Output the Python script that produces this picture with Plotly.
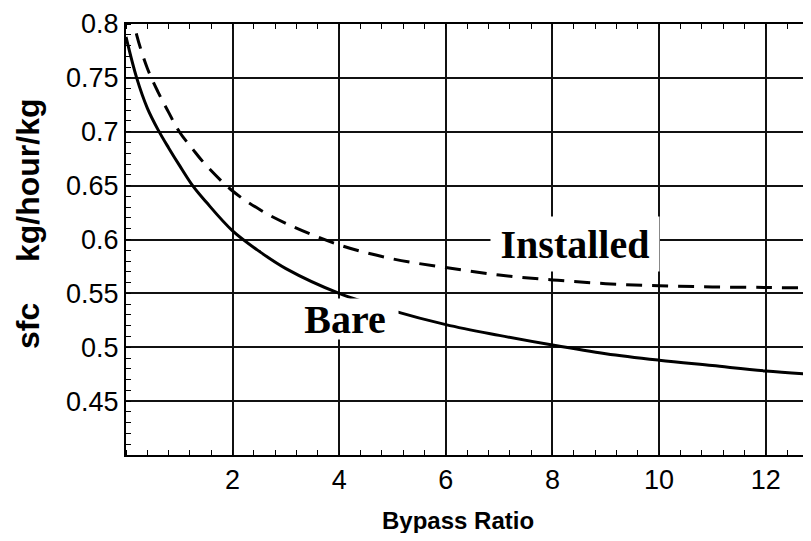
import plotly.graph_objects as go

# values
bypass_bare = [0, 0.2, 0.4, 0.6, 0.8, 1.0, 1.25, 1.5, 2, 2.5, 3, 4, 5, 6, 7, 8, 9, 10, 11, 12, 12.85]
sfc_bare = [0.788, 0.75, 0.722, 0.702, 0.685, 0.669, 0.650, 0.635, 0.608, 0.589, 0.573, 0.550,
            0.534, 0.521, 0.511, 0.502, 0.494, 0.488, 0.483, 0.478, 0.475]

bypass_installed = [0.1, 0.2, 0.4, 0.6, 0.8, 1.0, 1.25, 1.5, 2, 2.5, 3, 4, 5, 6, 7, 8, 9, 10, 11, 12, 12.85]
sfc_installed = [0.815, 0.79, 0.759, 0.737, 0.718, 0.700, 0.684, 0.669, 0.645, 0.628, 0.615, 0.595,
                 0.582, 0.574, 0.567, 0.5625, 0.559, 0.557, 0.556, 0.5555, 0.555]

x_ticks = [2, 4, 6, 8, 10, 12]
y_ticks = [0.45, 0.5, 0.55, 0.6, 0.65, 0.7, 0.75, 0.8]

# the page body has an 8px margin, so the figure starts at (8, 8) in the window;
# keep the page from overflowing vertically (no scrollbar)
OFF = 8
W, H = 811 - OFF, 541 - 2 * OFF
L, R, T = 126 - OFF, 0, 24 - OFF
B = H + OFF - 455

fig = go.Figure()
fig.add_trace(go.Scatter(
    x=bypass_bare, y=sfc_bare, mode='lines',
    line=dict(color='black', width=3, shape='spline'),
    name='Bare'
))
fig.add_trace(go.Scatter(
    x=bypass_installed, y=sfc_installed, mode='lines',
    line=dict(color='black', width=3, dash='16px,10px', shape='spline'),
    name='Installed'
))

# curve labels sit on white boxes that cut the grid and the curves
label_font = dict(family='Liberation Serif', size=40, color='black')
fig.add_annotation(x=8.43, y=0.596, text='<b>Installed</b>', showarrow=False,
                   font=label_font, bgcolor='white', borderpad=2, width=164, height=50)
fig.add_annotation(x=4.1, y=0.526, text='<b>Bare</b>', showarrow=False,
                   font=label_font, bgcolor='white', borderpad=1, width=104, height=38)


def paper_x(px):
    # px is a window pixel position
    return (px - OFF - L) / (W - L - R)


def paper_y(py):
    return 1 - (py - OFF - T) / (H - T - B)


# y title is split into two separate pieces
title_font = dict(family='Liberation Sans', size=32, color='black')
fig.add_annotation(x=paper_x(28), y=paper_y(180), xref='paper', yref='paper',
                   text='<b>kg/hour/kg</b>', showarrow=False, textangle=-90,
                   xanchor='center', yanchor='middle', font=title_font)
fig.add_annotation(x=paper_x(28), y=paper_y(326), xref='paper', yref='paper',
                   text='<b>sfc</b>', showarrow=False, textangle=-90,
                   xanchor='center', yanchor='middle', font=title_font)
# x title
fig.add_annotation(x=paper_x(458), y=paper_y(520), xref='paper', yref='paper',
                   text='<b>Bypass Ratio</b>', showarrow=False,
                   xanchor='center', yanchor='middle',
                   font=dict(family='Liberation Sans', size=24, color='black'))

axis_common = dict(
    showline=True, linecolor='black', linewidth=2,
    showgrid=True, gridcolor='#111111', gridwidth=1.5,
    ticks='', zeroline=False, automargin=False,
    tickfont=dict(family='Liberation Sans', size=27, color='black'),
)

fig.update_layout(
    width=W, height=H,
    margin=dict(l=L, r=R, t=T, b=B),
    showlegend=False,
    plot_bgcolor='white', paper_bgcolor='white',
    xaxis=dict(
        range=[0, 12.85], tickvals=x_ticks, mirror='ticks',
        minor=dict(dtick=0.4, tick0=0, ticks='inside', ticklen=5, tickcolor='black', showgrid=False),
        **axis_common
    ),
    yaxis=dict(
        range=[0.4, 0.8], tickvals=y_ticks, mirror=False,
        minor=dict(dtick=0.01, tick0=0.4, ticks='inside', ticklen=5, tickcolor='black', showgrid=False),
        **axis_common
    ),
)

fig.write_html("out.html")
